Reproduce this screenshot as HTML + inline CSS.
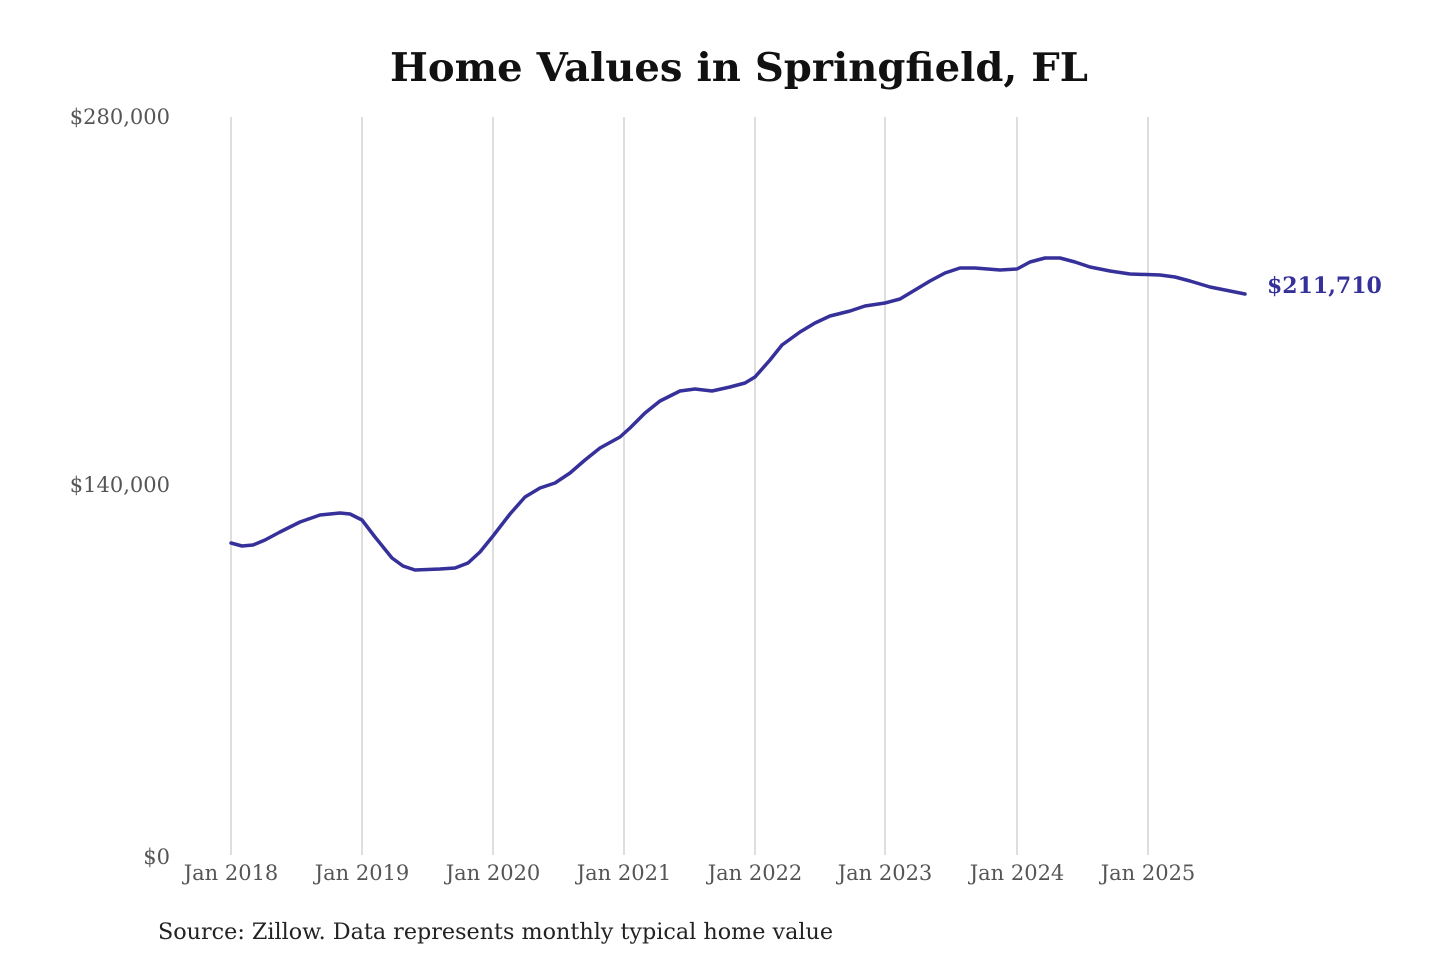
<!DOCTYPE html>
<html><head><meta charset="utf-8"><style>
html,body{margin:0;padding:0;background:#fff;width:1440px;height:960px;overflow:hidden}
</style></head><body>
<svg width="1440" height="960" xmlns="http://www.w3.org/2000/svg" font-family="DejaVu Serif, Liberation Serif, serif">
<text x="390" y="81" textLength="698" lengthAdjust="spacingAndGlyphs" font-size="39" font-weight="bold" fill="#111">Home Values in Springfield, FL</text>
<g stroke="#c8c8c8" stroke-width="1.2">
<line x1="231" y1="117" x2="231" y2="855"/><line x1="362" y1="117" x2="362" y2="855"/>
<line x1="493" y1="117" x2="493" y2="855"/><line x1="624" y1="117" x2="624" y2="855"/>
<line x1="755" y1="117" x2="755" y2="855"/><line x1="885" y1="117" x2="885" y2="855"/>
<line x1="1017" y1="117" x2="1017" y2="855"/><line x1="1148" y1="117" x2="1148" y2="855"/>
</g>
<g font-size="21" fill="#555" text-anchor="end">
<text x="170" y="124">$280,000</text><text x="170" y="492">$140,000</text><text x="170" y="864">$0</text>
</g>
<g font-size="21" fill="#555" text-anchor="middle">
<text x="231" y="880">Jan 2018</text><text x="362" y="880">Jan 2019</text><text x="493" y="880">Jan 2020</text>
<text x="624" y="880">Jan 2021</text><text x="755" y="880">Jan 2022</text><text x="885" y="880">Jan 2023</text>
<text x="1017" y="880">Jan 2024</text><text x="1148" y="880">Jan 2025</text>
</g>
<polyline fill="none" stroke="#36309a" stroke-width="3.5" stroke-linejoin="round" stroke-linecap="round" points="231,543 242,546 253,545 265,540 280,532 300,522 320,515 340,513 350,514 362,520 375,537 392,558 403,566 415,570 440,569 455,568 468,563 480,552 493,536 510,514 525,497 540,488 555,483 570,473 585,460 600,448 620,437 630,428 645,413 660,401 680,391 695,389 712,391 730,387 745,383 755,377 770,360 782,345 800,332 815,323 830,316 850,311 865,306 885,303 900,299 915,290 930,281 945,273 960,268 975,268 1000,270 1017,269 1030,262 1045,258 1060,258 1075,262 1090,267 1110,271 1130,274 1160,275 1175,277 1190,281 1210,287 1230,291 1245,294"/>
<text x="1267" y="293" font-size="22" font-weight="bold" fill="#36309a">$211,710</text>
<text x="158" y="939" textLength="675" lengthAdjust="spacingAndGlyphs" font-size="22" fill="#222">Source: Zillow. Data represents monthly typical home value</text>
</svg>
</body></html>
